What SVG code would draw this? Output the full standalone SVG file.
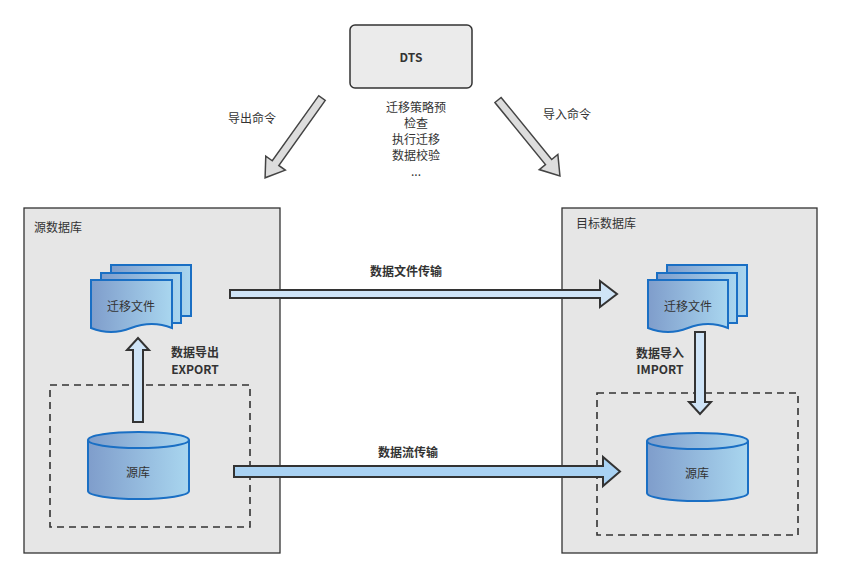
<svg xmlns="http://www.w3.org/2000/svg" width="842" height="579" viewBox="0 0 842 579">
<style>
text{font-family:"Noto Sans CJK SC","Liberation Sans",sans-serif;fill:#333}
.t{font-size:12px}
.b{font-size:12px;font-weight:bold}
.panel{fill:#e6e6e6;stroke:#333;stroke-width:1.3}
.dash{fill:none;stroke:#333;stroke-width:1.6;stroke-dasharray:7,5}
.shape{fill:url(#g);stroke:#1a6fc4;stroke-width:2}
.arr{fill:#cfe4f7;stroke:#333;stroke-width:2}
.arr2{fill:#a9d2f3;stroke:#333;stroke-width:2}
.gray{fill:#ddd;stroke:#444;stroke-width:1.5}
</style>
<defs>
<linearGradient id="g" x1="0" y1="0" x2="1" y2="0"><stop offset="0" stop-color="#7f9dcb"/><stop offset="1" stop-color="#a9d6ef"/></linearGradient>
</defs>
<g id="dts"><rect x="350" y="25" width="122" height="63" rx="5" fill="#ebebeb" stroke="#333" stroke-width="1.5"/><text x="411" y="62" class="b" text-anchor="middle">DTS</text></g>
<g id="dts-label" class="t" text-anchor="middle"><text x="416" y="112">迁移策略预</text><text x="416" y="128">检查</text><text x="416" y="144">执行迁移</text><text x="416" y="160">数据校验</text><text x="416" y="176">...</text></g>
<g id="src"><rect class="panel" x="24" y="208" width="256" height="345"/><text x="34" y="232" class="t">源数据库</text><rect class="dash" x="50" y="385" width="200" height="142"/></g>
<g id="dst"><rect class="panel" x="562" y="208" width="255" height="345"/><text x="576" y="228" class="t">目标数据库</text><rect class="dash" x="597" y="393" width="201" height="142"/></g>
<g id="src-file">
<path class="shape" d="M111,265 H191 V316 H111Z"/>
<path class="shape" d="M101,273 H181 V323 H101Z"/>
<path class="shape" d="M91,280 H172 V328 Q152,320 131,328 Q111,336 91,328Z"/>
<text x="131" y="311" class="t" text-anchor="middle">迁移文件</text></g>
<g id="dst-file">
<path class="shape" d="M667,265 H747 V316 H667Z"/>
<path class="shape" d="M657,273 H737 V323 H657Z"/>
<path class="shape" d="M648,280 H728 V328 Q708,320 688,328 Q668,336 648,328Z"/>
<text x="688" y="311" class="t" text-anchor="middle">迁移文件</text></g>
<g id="src-db"><path class="shape" d="M88,440 V491 A50.5,8 0 0 0 189,491 V440"/><ellipse class="shape" cx="138.5" cy="440" rx="50.5" ry="8"/><text x="138" y="477" class="t" text-anchor="middle">源库</text></g>
<g id="dst-db"><path class="shape" d="M647,441 V493 A50.5,8 0 0 0 748,493 V441"/><ellipse class="shape" cx="697.5" cy="441" rx="50.5" ry="8"/><text x="697" y="478" class="t" text-anchor="middle">源库</text></g>
<g id="connectors">
<polygon class="arr" points="230,290 600,290 600,281 617,294 600,307 600,298 230,298"/>
<polygon class="arr2" points="234,466 603,466 603,457 620,471.5 603,486 603,477 234,477"/>
<polygon class="arr" points="133,422 133,350 127,350 138,338 149,350 143,350 143,422"/>
<polygon class="arr" points="695,332 695,402 689,402 700,414 711,402 705,402 705,332"/>
<polygon class="gray" transform="translate(322,98) rotate(125.5)" points="0,-4 80,-4 80,-12 98,0 80,12 80,4 0,4"/>
<polygon class="gray" transform="translate(498,100) rotate(50.8)" points="0,-4 80,-4 80,-12 98,0 80,12 80,4 0,4"/>
</g>
<g id="labels">
<text x="228" y="123" class="t">导出命令</text>
<text x="543" y="119" class="t">导入命令</text>
<text x="406" y="276" class="b" text-anchor="middle">数据文件传输</text>
<text x="408" y="457" class="b" text-anchor="middle">数据流传输</text>
<text x="195" y="357" class="b" text-anchor="middle">数据导出</text>
<text x="195" y="374" class="b" text-anchor="middle">EXPORT</text>
<text x="660" y="358" class="b" text-anchor="middle">数据导入</text>
<text x="660" y="374" class="b" text-anchor="middle">IMPORT</text>
</g>
</svg>
